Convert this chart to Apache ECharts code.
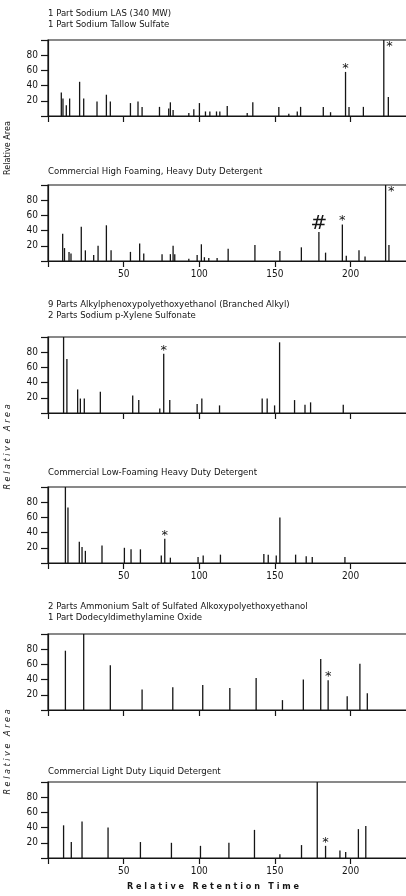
<!DOCTYPE html>
<html>
<head>
<meta charset="utf-8">
<script src="https://cdn.jsdelivr.net/npm/echarts@6/dist/echarts.min.js"></script>
<style>
  html, body { margin: 0; padding: 0; background: #fff; }
  #chart { width: 406px; height: 896px; }
</style>
</head>
<body>
<div id="chart"></div>
<script>
// retention time (x) and relative area (y) for each trace
var p1Rt = [8.8, 9.9, 12.1, 14.3, 20.9, 23.6, 32.4, 38.6, 41.2, 54.5, 59.5, 62.2, 73.7, 79.8, 80.9, 82.7, 93.1, 96.4, 100.1, 104.1, 107, 111.4, 113.6, 118.5, 131.7, 135.4, 152.6, 159.2, 164.8, 167, 182, 186.8, 196.7, 199, 208.5, 222, 225];
var p1Area = [31, 23, 14, 23, 45, 23, 19, 28, 19, 17, 19, 12, 12, 10, 18, 8, 4, 9, 17, 6, 6, 6, 6, 13, 4, 18, 12, 3, 6, 12, 12, 5, 58, 12, 12, 100, 25];
var p1Marks = [[196.7, '*'], [222, '*']];

var p2Rt = [9.7, 10.9, 13.9, 15.2, 22, 24.7, 30.2, 33.1, 38.6, 41.7, 54.5, 60.6, 63.3, 75.4, 80.9, 82.7, 83.8, 93.1, 98.6, 101.4, 103.4, 106.3, 111.8, 119.1, 136.8, 153.3, 167.5, 179.1, 183.5, 194.6, 197.2, 205.6, 209.6, 223.2, 225.4];
var p2Area = [36, 17, 12, 10, 45, 14, 8, 20, 47, 14, 12, 23, 10, 9, 9, 20, 9, 3, 8, 22, 5, 4, 4, 16, 21, 13, 18, 38, 11, 48, 7, 14, 6, 100, 21];
var p2Marks = [[179.1, '#'], [194.6, '*'], [223.2, '*']];

var p3Rt = [10.3, 12.5, 19.6, 21.4, 24, 34.6, 56, 60, 73.9, 76.5, 80.5, 98.6, 101.7, 113.4, 141.6, 144.9, 149.8, 153.1, 163, 169.9, 173.6, 195.2];
var p3Area = [100, 71, 31, 19, 19, 28, 23, 17, 6, 78, 17, 12, 19, 10, 19, 19, 10, 93, 17, 11, 14, 11];
var p3Marks = [[76.5, '*']];

var p4Rt = [11.5, 13.2, 20.7, 22.5, 24.7, 35.7, 50.5, 54.9, 61.1, 74.9, 77.2, 80.9, 99.2, 102.6, 114, 142.7, 145.6, 150.9, 153.3, 163.7, 170.7, 174.7, 196.3];
var p4Area = [100, 73, 28, 21, 16, 23, 20, 18, 18, 10, 32, 7, 8, 10, 11, 12, 11, 10, 60, 11, 9, 8, 8];
var p4Marks = [[77.2, '*']];

var p5Rt = [11.5, 23.6, 41.2, 62.2, 82.5, 102.3, 120.2, 137.6, 155, 168.8, 180.3, 185.2, 197.8, 206.2, 211.1];
var p5Area = [78, 100, 59, 27, 30, 33, 29, 42, 13, 40, 67, 39, 18, 61, 22];
var p5Marks = [[185.2, '*']];

var p6Rt = [10.3, 15.4, 22.5, 39.7, 61.1, 81.6, 100.8, 119.6, 136.5, 153.3, 167.6, 178, 183.5, 193, 196.8, 205.2, 210.1];
var p6Area = [43, 21, 48, 40, 21, 20, 16, 20, 37, 5, 17, 100, 16, 10, 8, 38, 42];
var p6Marks = [[183.5, '*']];

var titles = [
  '1 Part Sodium LAS (340 MW)\n1 Part Sodium Tallow Sulfate',
  'Commercial High Foaming, Heavy Duty Detergent',
  '9 Parts Alkylphenoxypolyethoxyethanol (Branched Alkyl)\n2 Parts Sodium p-Xylene Sulfonate',
  'Commercial Low-Foaming Heavy Duty Detergent',
  '2 Parts Ammonium Salt of Sulfated Alkoxypolyethoxyethanol\n1 Part Dodecyldimethylamine Oxide',
  'Commercial Light Duty Liquid Detergent'
];
var xTicks = [0, 50, 100, 150, 200];
var yTicks = [0, 20, 40, 60, 80, 100];

var FONT = "'Liberation Sans Narrow', 'DejaVu Sans Condensed', sans-serif";
var INK = '#151515';

var traces = [
  { rt: p1Rt, area: p1Area, marks: p1Marks },
  { rt: p2Rt, area: p2Area, marks: p2Marks },
  { rt: p3Rt, area: p3Area, marks: p3Marks },
  { rt: p4Rt, area: p4Area, marks: p4Marks },
  { rt: p5Rt, area: p5Area, marks: p5Marks },
  { rt: p6Rt, area: p6Area, marks: p6Marks }
];

// layout of each panel
var gridTops = [40, 185, 337, 487, 634, 782];
var titleTops = [8, 166, 299, 467, 601, 766];
var showXLabels = [false, true, false, true, false, true];

var grids = [], xAxes = [], yAxes = [], series = [], titleList = [];

traces.forEach(function (t, i) {
  grids.push({
    left: 48, right: -2, top: gridTops[i], height: 76,
    outerBoundsMode: 'none', containLabel: false,
    show: true, borderColor: INK, borderWidth: 1.2
  });
  xAxes.push({
    type: 'value', gridIndex: i, min: 0, max: 238, interval: 50,
    axisLine: { show: true, lineStyle: { color: INK, width: 1.2 } },
    axisTick: { show: true, length: 6, lineStyle: { color: INK, width: 1.2 } },
    axisLabel: {
      show: showXLabels[i], margin: 8, color: INK, fontSize: 10, fontFamily: FONT,
      formatter: function (v) { return xTicks.indexOf(v) > 0 ? String(v) : ''; }
    },
    splitLine: { show: false }
  });
  yAxes.push({
    type: 'value', gridIndex: i, min: 0, max: 100, interval: 20,
    axisLine: { show: true, lineStyle: { color: INK, width: 1.2 } },
    axisTick: { show: true, length: 7, lineStyle: { color: INK, width: 1.2 } },
    axisLabel: {
      margin: 10, color: INK, fontSize: 10, fontFamily: FONT,
      formatter: function (v) { return (v === yTicks[0] || v === yTicks[yTicks.length - 1]) ? '' : String(v); }
    },
    splitLine: { show: false }
  });

  var data = t.rt.map(function (x, j) {
    var y = t.area[j];
    var m = t.marks.filter(function (mk) { return mk[0] === x; })[0];
    if (!m) return [x, y];
    var lbl = {
      show: true, formatter: m[1], color: INK, fontFamily: 'DejaVu Sans',
      fontSize: m[1] === '#' ? 20 : 13
    };
    if (y >= 100) {
      lbl.position = [3, 0];
    } else {
      lbl.position = 'top';
      lbl.distance = m[1] === '#' ? -2 : -3;
    }
    return { value: [x, y], label: lbl };
  });

  series.push({
    type: 'bar', xAxisIndex: i, yAxisIndex: i,
    barWidth: 1.3, itemStyle: { color: INK },
    data: data, animation: false
  });

  titleList.push({
    text: titles[i], left: 48, top: titleTops[i], padding: 0,
    textStyle: { fontSize: 9.5, fontWeight: 'normal', color: INK, fontFamily: FONT, lineHeight: 11 }
  });
});

var myChart = echarts.init(document.getElementById('chart'));

var option = {
  backgroundColor: '#fff',
  animation: false,
  title: titleList,
  grid: grids,
  xAxis: xAxes,
  yAxis: yAxes,
  series: series,
  graphic: [
    { type: 'text', x: 8, y: 148, rotation: Math.PI / 2,
      style: { text: 'Relative Area', fill: INK, font: '9px ' + FONT, align: 'center', verticalAlign: 'middle' } },
    { type: 'text', x: 8, y: 447, rotation: Math.PI / 2,
      style: { text: 'R e l a t i v e   A r e a', fill: INK, font: 'italic 9px ' + FONT, align: 'center', verticalAlign: 'middle' } },
    { type: 'text', x: 8, y: 752, rotation: Math.PI / 2,
      style: { text: 'R e l a t i v e   A r e a', fill: INK, font: 'italic 9px ' + FONT, align: 'center', verticalAlign: 'middle' } },
    { type: 'text', x: 213, y: 887,
      style: { text: 'R e l a t i v e   R e t e n t i o n   T i m e', fill: INK, font: 'bold 9px ' + FONT, align: 'center', verticalAlign: 'middle' } }
  ]
};

myChart.setOption(option);
</script>
</body>
</html>
